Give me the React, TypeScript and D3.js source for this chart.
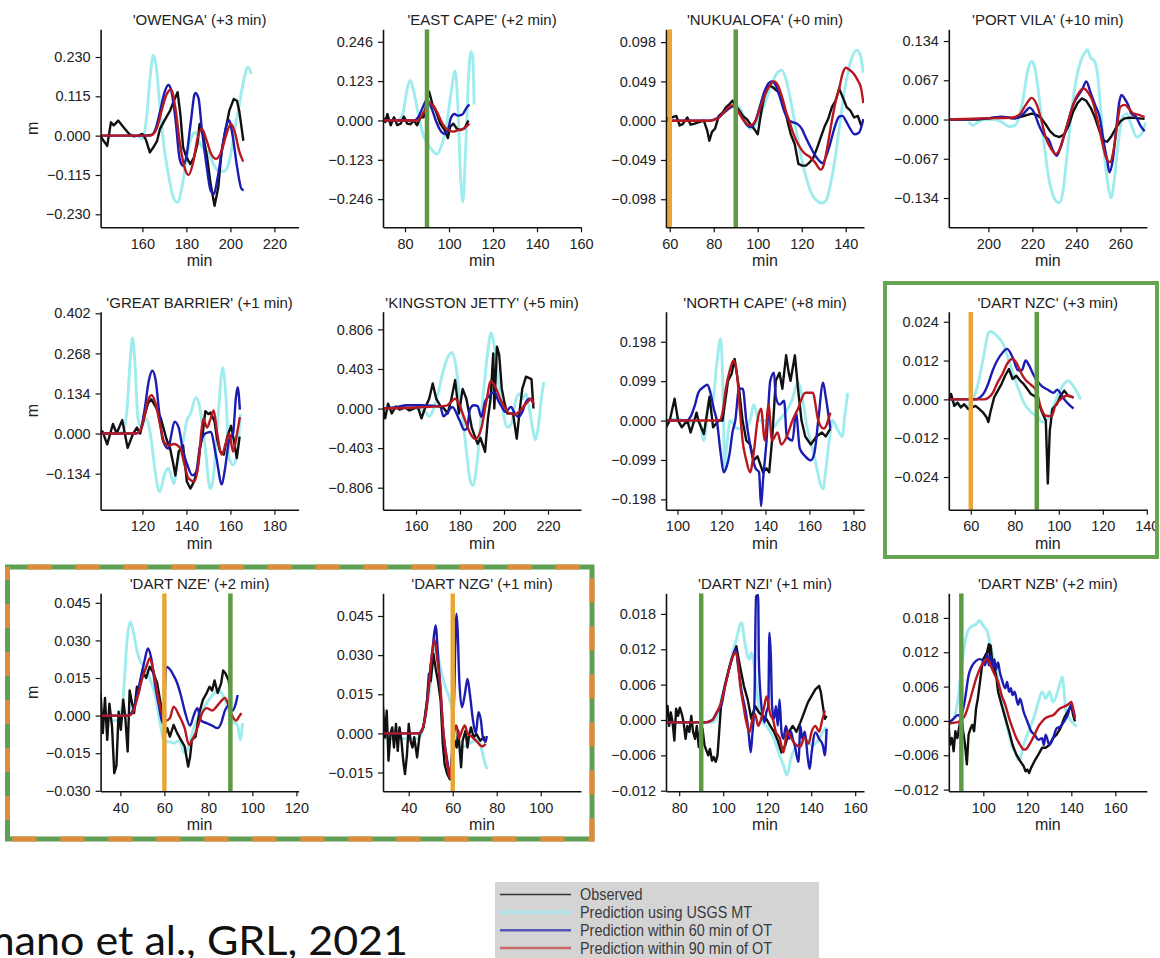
import React, { useRef, useEffect } from 'react';
import * as d3 from 'd3';

type Pt = [number, number];

// ---------- OWENGA (+3 min)
const owengaObs: Pt[] = [[141,0],[142,-0.012],[144,-0.03],[145.7,0.039],[147,0.03],[149,0.044],[151.5,0.024],[154,0.005],[156,-0.002],[158,0],[160,0.005],[161.5,-0.01],[163.4,-0.049],[165,-0.034],[166.7,-0.015],[168,0.02],[170,0.044],[172.6,0.073],[174.3,0.102],[176,0.127],[177.3,0.06],[178.5,-0.034],[180,-0.063],[181.8,-0.083],[183.5,-0.063],[185,-0.024],[186,0.034],[187.5,0.005],[189.4,-0.063],[191,-0.141],[192.8,-0.205],[194.5,-0.151],[196,-0.044],[198,0.024],[199.5,0.073],[201.5,0.107],[203,0.102],[204,0.073],[205.9,-0.015]];
const owengaUsgs: Pt[] = [[158,0],[160,-0.01],[162,0.06],[163.5,0.17],[165,0.235],[166.5,0.19],[168,0.08],[170,-0.04],[172,-0.12],[174,-0.18],[176,-0.195],[178,-0.15],[180,-0.07],[182,-0.01],[184,0.01],[186,-0.02],[188,-0.04],[190,-0.05],[192,-0.08],[194,-0.1],[196,-0.105],[198,-0.1],[200,-0.06],[202,0.02],[204,0.09],[206,0.16],[208,0.2],[209.5,0.18]];
const owenga60: Pt[] = [[141,0],[160,0],[164,0.002],[166,0.02],[168,0.07],[170,0.125],[171.8,0.148],[173,0.135],[175,0.05],[177,-0.07],[178.5,-0.088],[180,-0.06],[182,0.04],[184,0.125],[185.5,0.11],[187,0.02],[189,-0.08],[191,-0.16],[192.5,-0.17],[194,-0.13],[196,-0.05],[198,0.025],[199.5,0.045],[201,0],[203,-0.09],[205,-0.155],[206,-0.16]];
const owenga90: Pt[] = [[141,0],[163,0],[165,0.005],[167,0.03],[169,0.08],[171,0.12],[173,0.135],[175,0.08],[177,-0.02],[179,-0.09],[181,-0.115],[183,-0.08],[185,-0.01],[187,0.02],[189,-0.01],[191,-0.05],[193.5,-0.068],[196,-0.045],[198,0],[200.3,0.034],[202,0.01],[204,-0.045],[205.8,-0.076]];
const owengaTicks = [-0.23, -0.115, 0, 0.115, 0.23];

// ---------- EAST CAPE (+2 min)
const eastCapeObs: Pt[] = [[70,0.01],[71,-0.005],[72,0.02],[73.5,-0.015],[75,0.01],[76.5,-0.015],[78,-0.01],[79.5,0.012],[81,-0.01],[82.5,-0.012],[84,0],[85.5,-0.015],[87,0.01],[88.5,0.01],[90,0.06],[91,0.09],[92.5,0.05],[94,0.03],[96,-0.01],[98,-0.03],[99.5,-0.055],[100.5,-0.02],[102,-0.01],[103.5,-0.025],[105,-0.03],[107,-0.025],[108.8,0]];
const eastCapeUsgs: Pt[] = [[77,0],[79,0.02],[81,0.1],[82.5,0.125],[84,0.09],[86,0.02],[88,-0.04],[90,-0.07],[92,-0.09],[94.5,-0.105],[97,-0.07],[99,-0.01],[101,0.09],[102.8,0.155],[104,0.05],[105.3,-0.18],[106.3,-0.255],[107.5,-0.1],[109,0.15],[110,0.215],[110.8,0.2],[111.4,0.05]];
const eastCape60: Pt[] = [[70,0],[84,0],[86,0.01],[88,0.04],[90,0.065],[92,0.04],[94,0],[96,-0.03],[98,-0.042],[99.5,-0.03],[101,0.01],[102.5,0.02],[104,0.015],[106,0.018],[108,0.04],[109.3,0.05]];
const eastCape90: Pt[] = [[70,0],[86,0],[88,0.02],[90,0.045],[91,0.055],[93,0.045],[95,0.02],[97,-0.01],[99.5,-0.03],[102,-0.035],[104,-0.03],[106,-0.028],[108,-0.018],[109.3,-0.01]];
const eastCapeTicks = [-0.246, -0.123, 0, 0.123, 0.246];

// ---------- NUKUALOFA (+0 min)
const nukuObs: Pt[] = [[58.3,0.003],[60,0.003],[61,0.004],[63,0.006],[64.5,-0.006],[66,-0.004],[68,0.004],[69.5,-0.005],[71,-0.004],[73,-0.002],[75.5,0],[77,-0.012],[78,-0.025],[79.2,-0.014],[80.6,-0.01],[82.3,0.006],[84,0.01],[85.6,0.017],[87.3,0.021],[88.5,0.025],[89.8,0.019],[91.5,0.013],[93.2,0.006],[95,0.002],[96.6,-0.004],[98.3,-0.01],[100,-0.017],[101.7,0.013],[103.3,0.034],[105,0.044],[106.7,0.042],[108.4,0.038],[110,0.034],[111.8,0.021],[113.5,0],[115,-0.017],[116.8,-0.029],[118.5,-0.054],[120.2,-0.056],[121.9,-0.056],[123.6,-0.052],[125.3,-0.046],[127,-0.034],[128.6,-0.021],[130.3,-0.008],[132,0.002],[133.7,0.017],[135.4,0.025],[137,0.04],[138.7,0.029],[140.4,0.017],[142,0.013],[143.8,0.004],[145.5,0.006],[147,-0.006]];
const nukuUsgs: Pt[] = [[89,0.015],[91,0.018],[93,0.01],[95,-0.005],[97,-0.01],[99,-0.005],[101,0.005],[103,0.02],[105,0.035],[107,0.05],[109,0.06],[111,0.063],[113,0.05],[115,0.025],[117,-0.005],[119,-0.035],[121,-0.06],[123,-0.08],[125,-0.094],[127,-0.1],[129,-0.103],[131,-0.1],[133,-0.08],[135,-0.05],[137,-0.01],[139,0.03],[141,0.06],[143,0.08],[145,0.088],[146.5,0.083],[148,0.06]];
const nuku60: Pt[] = [[58.3,0],[78,0],[82,0.004],[86,0.013],[89,0.018],[91,0.012],[93,0.003],[95,-0.005],[96.6,-0.008],[99,0],[101,0.018],[103,0.036],[105,0.047],[106.5,0.049],[108,0.045],[110,0.03],[112,0.012],[114,0.001],[116,-0.002],[118,-0.004],[120,-0.01],[122,-0.022],[124,-0.033],[126,-0.043],[128,-0.05],[129.5,-0.053],[131,-0.045],[133,-0.028],[135,-0.008],[137,0.005],[138.5,0.006],[140,0],[142,-0.01],[144,-0.017],[146,-0.015],[148,0.002]];
const nuku90: Pt[] = [[58.3,0],[78,0],[82,0.003],[85,0.012],[88.5,0.019],[91,0.012],[93,0.003],[95,-0.004],[96.6,-0.006],[99,0],[101,0.015],[103,0.03],[105,0.042],[107.5,0.049],[109,0.045],[111,0.03],[113,0.01],[114.3,0],[116,-0.015],[118.5,-0.03],[121,-0.04],[123.6,-0.045],[126,-0.052],[128.6,-0.061],[130,-0.055],[131.5,-0.035],[133.7,0],[135.5,0.025],[137,0.04],[138.5,0.058],[140,0.066],[141.5,0.064],[143.8,0.058],[145.5,0.05],[147,0.04],[148,0.022]];
const nukuTicks = [-0.098, -0.049, 0, 0.049, 0.098];

// ---------- PORT VILA (+10 min)
const vilaObs: Pt[] = [[182,0],[195,0],[205,0.004],[212,0.002],[216,0.006],[219.7,0.01],[222,0.008],[224,0.002],[226,-0.008],[228,-0.02],[230,-0.027],[232.3,-0.03],[234.5,-0.025],[236.5,-0.01],[238.5,0.013],[240.5,0.028],[242.4,0.036],[244.5,0.032],[246.5,0.02],[248.5,0.003],[250.5,-0.02],[252.5,-0.036],[254,-0.038],[256,-0.028],[258,-0.014],[260,-0.003],[262,0.002],[264,0.003],[266,0.003],[268.5,0.002],[271,0.001]];
const vilaUsgs: Pt[] = [[191,-0.004],[193,-0.01],[195,-0.005],[198,0],[202,0],[206,-0.004],[209.5,-0.012],[212,-0.01],[214,0.005],[216,0.04],[218,0.085],[219.7,0.099],[221,0.09],[223,0.04],[225,-0.03],[227,-0.09],[229,-0.125],[231,-0.14],[232.3,-0.142],[234,-0.12],[236,-0.05],[238,0.02],[240,0.07],[242,0.1],[244,0.115],[245,0.119],[246.5,0.105],[248.2,0.1],[249.5,0.08],[251,0.02],[253,-0.07],[255,-0.125],[255.8,-0.134],[257,-0.11],[259,-0.04],[261,0.005],[263,0.01],[265,-0.01],[267.5,-0.03],[269.5,-0.025],[271.5,-0.005]];
const vila60: Pt[] = [[182,0],[200,0.002],[206,0.005],[212,0.002],[216,0.01],[218.8,0.02],[221,0.01],[223,-0.01],[225.5,-0.028],[227.5,-0.035],[229,-0.05],[231,-0.062],[233,-0.045],[235,-0.02],[236.5,0],[238.5,0.025],[240.7,0.04],[242.5,0.05],[244.5,0.065],[246.5,0.045],[248.5,0.025],[250.5,0.005],[252.5,-0.04],[254,-0.07],[255,-0.09],[256.5,-0.07],[258,-0.02],[259.5,0.03],[260.5,0.042],[262,0.035],[263.5,0.025],[265,0.01],[267,0.005],[269,-0.01],[271,-0.02]];
const vila90: Pt[] = [[182,0],[198,0.002],[210,0.003],[214,0.008],[217,0.025],[219.7,0.037],[222,0.025],[224,0],[226,-0.03],[228.5,-0.05],[230.6,-0.059],[232.5,-0.05],[234.5,-0.025],[236.5,0],[239,0.03],[241,0.045],[243.2,0.053],[245.5,0.045],[247.5,0.03],[249.5,0],[251.5,-0.035],[253.5,-0.065],[255.3,-0.073],[257,-0.05],[258.5,-0.01],[260,0.022],[262,0.025],[264,0.018],[266,0.01],[268.5,0.008],[271,0.004]];
const vilaTicks = [-0.134, -0.067, 0, 0.067, 0.134];

// ---------- GREAT BARRIER (+1 min)
const barrierObs: Pt[] = [[101,0.01],[102,0.005],[104,-0.036],[106.6,0.032],[108.3,0],[110.8,0.045],[113.3,-0.048],[115.8,0],[117.5,0.02],[119,0],[121,0.06],[122.5,0.1],[124,0.115],[126,0.09],[128.4,0.05],[131,-0.02],[132.6,-0.05],[134,-0.1],[135,-0.14],[136.5,-0.06],[138.5,-0.04],[140.2,-0.16],[141.8,-0.184],[143.5,-0.16],[145,-0.12],[146.2,-0.05],[147.4,0],[148.6,0.075],[150,0.065],[151,0.07],[152.8,0.04],[154,-0.02],[155.3,-0.06],[157,-0.07],[158.6,-0.01],[160.3,0.026],[161.5,-0.02],[162.9,-0.082],[164.2,-0.01]];
const barrierUsgs: Pt[] = [[101,0],[108,0],[111,0.005],[113,0.08],[114.5,0.25],[115.5,0.32],[116.5,0.25],[118,0.05],[119.5,0.02],[121.7,0.05],[124,-0.02],[126,-0.138],[127.9,-0.195],[130,-0.138],[131.8,-0.116],[134.3,-0.167],[136,-0.093],[138.5,-0.025],[140.2,0.043],[141.8,0.066],[144.4,0.12],[146,0.09],[147.4,0.02],[148.6,-0.05],[150.8,-0.184],[152,-0.16],[154.5,0.066],[156.5,0.22],[158,0.12],[159.5,-0.082],[161.2,-0.105],[163,-0.07],[164.5,0.066]];
const barrier60: Pt[] = [[101,0],[117,0],[119,0.01],[121,0.08],[123,0.18],[124.5,0.21],[126,0.18],[127.5,0.08],[129.2,-0.02],[131.8,-0.05],[133,-0.01],[134.6,0.04],[136.5,0.02],[138.5,-0.06],[140.2,-0.1],[142.7,-0.14],[144.4,-0.13],[146,-0.05],[148.6,0],[151,0.005],[153.6,-0.08],[156.1,-0.17],[157.5,-0.12],[159.5,-0.02],[161.2,0],[162.5,0.12],[163.3,0.155],[164.3,0.08]];
const barrier90: Pt[] = [[101,0],[117,0],[119,0.01],[121,0.06],[122.5,0.11],[124.2,0.128],[126,0.1],[128,0.03],[130,-0.03],[131.8,-0.04],[134.3,-0.035],[137.3,-0.05],[139,-0.1],[141,-0.15],[143.5,-0.16],[145.5,-0.1],[146.7,0],[147.7,0.05],[149.4,0.02],[151,0.05],[152.4,0.077],[154,0],[156.1,-0.07],[158,-0.03],[159.5,0],[161.2,-0.06],[163,0],[164.3,0.055]];
const barrierTicks = [-0.134, 0, 0.134, 0.268, 0.402];

// ---------- KINGSTON JETTY (+5 min)
const kingstonObs: Pt[] = [[145,0],[146,-0.1],[147.3,0.05],[149,-0.05],[150.8,0.02],[152.5,-0.01],[155,0.01],[157,-0.02],[159,0],[160.8,0.02],[162.5,-0.1],[164,0],[166,0.1],[167.6,0.256],[169.2,0.1],[171,0.03],[172.7,0],[174.4,-0.05],[176.1,0.1],[177.8,0.29],[179.5,-0.05],[181.2,0.2],[182.9,0.1],[185.4,-0.2],[188,-0.36],[189.3,-0.3],[191.4,-0.44],[192.7,-0.1],[193.9,0.1],[195.1,0.56],[195.6,0],[196.8,0.63],[197.8,0.55],[199,0.2],[200.3,0.05],[201.5,-0.05],[203.2,-0.05],[204.1,-0.05],[205.8,-0.307],[207,-0.05],[208.3,0.2],[210,0.324],[212.5,0.3],[213.4,0]];
const kingstonUsgs: Pt[] = [[145,0],[150,0],[156,0.02],[160,0],[164,-0.03],[166,-0.08],[168,0],[170,0.15],[172,0.35],[174,0.5],[176.4,0.57],[178,0.45],[180,0.1],[181.5,-0.15],[183,-0.45],[184.5,-0.72],[185.8,-0.785],[187.5,-0.6],[189.7,-0.05],[191.5,0.35],[193,0.65],[194.2,0.77],[195.5,0.65],[197,0.35],[199,0.05],[201.5,-0.19],[203.5,-0.15],[205,0.05],[206.8,0.15],[208.5,0.1],[210,0.15],[211.5,0],[213,-0.2],[214.2,-0.32],[215.5,-0.2],[217,0.1],[218.1,0.27]];
const kingston60: Pt[] = [[145,0],[150,0.01],[156,0.034],[162,0.034],[167,0.03],[171,0.02],[172.5,-0.08],[174,-0.05],[176.5,0.015],[179.8,-0.12],[182,-0.22],[183.2,-0.2],[184.6,0],[186.3,0.034],[188,0.024],[189.7,-0.085],[191.4,0.07],[193,0.12],[195.6,0.17],[197.3,0.085],[199,0.017],[200.7,-0.034],[203.2,0.017],[204.9,-0.05],[206.6,-0.085],[208.3,-0.034],[210,0.068],[211.7,0.1],[213.4,0.05]];
const kingston90: Pt[] = [[145,0],[160,0.01],[168,0.02],[174,0.03],[176,0.07],[177.8,0.1],[179.5,0.05],[182,-0.1],[184.6,-0.25],[187.1,-0.31],[189.7,-0.2],[192.2,0.1],[193.9,0.28],[196.5,0.2],[198.2,0.1],[200.7,0],[202.4,-0.05],[204.9,-0.06],[207.4,-0.02],[210,0.05],[212.5,0.1],[213.4,0.05]];
const kingstonTicks = [-0.806, -0.403, 0, 0.403, 0.806];

// ---------- NORTH CAPE (+8 min)
const northCapeObs: Pt[] = [[94.8,-0.017],[96.5,0],[98.7,0.055],[100.3,0],[102,-0.017],[104.5,0],[106,-0.03],[108.7,0.02],[109.5,0],[112,-0.034],[114.6,0.06],[116.2,-0.017],[118.8,0],[120.5,0],[123,0.1],[124.6,0.117],[126,0.155],[128,0.08],[129.6,0],[131.3,-0.05],[133,-0.06],[134.7,-0.1],[136.4,-0.09],[138.9,-0.13],[140.5,-0.12],[141.7,-0.13],[143,-0.05],[144.7,0.1],[146.4,0.12],[147.7,0.08],[149.4,0.164],[150.6,0.12],[151.4,0.1],[153.4,0.164],[154.8,0.08],[156.4,0],[158.1,-0.04],[160.6,-0.06],[163.2,-0.04],[165.7,-0.03],[167.4,-0.04],[169.5,-0.02]];
const northCapeUsgs: Pt[] = [[95,0],[100,0.005],[105,-0.005],[110,0],[112,-0.05],[114.6,0.055],[116,0.05],[118,0.15],[119.6,0.205],[120.6,0.1],[121.5,-0.12],[122.5,-0.06],[124,0],[127,-0.02],[130,-0.02],[133,0],[134.7,0.04],[137,0],[140,0],[143,-0.02],[146,0],[149,0.02],[152,0.05],[154.8,0.096],[157,0.05],[159,-0.02],[161,-0.06],[163,-0.11],[165,-0.16],[166.2,-0.172],[167.5,-0.12],[169,-0.05],[170.5,0],[172.5,-0.02],[174.9,-0.04],[176,0.01],[177.4,0.07]];
const northCape60: Pt[] = [[94.8,0],[104,0],[106,0.01],[108,0.04],[109.5,0.07],[112,0.085],[113.6,0.09],[115,0.07],[116.5,0.03],[117.9,0],[119.6,-0.08],[121,-0.13],[122.1,-0.12],[123.8,-0.08],[125,-0.03],[126.3,0],[128,0.08],[129.7,0.08],[131.3,0],[133,-0.06],[135.5,-0.12],[137.1,-0.13],[138,-0.215],[138.9,-0.15],[140.5,-0.05],[142.2,0.1],[143.9,0.12],[144.7,0.06],[146.4,0.04],[148.5,0.05],[149.7,-0.04],[152.3,-0.05],[153.9,0.02],[155.6,-0.07],[158.1,-0.09],[160.6,-0.1],[162.3,-0.08],[164,0],[166.2,0.095],[167.4,0.06],[169.5,-0.02]];
const northCape90: Pt[] = [[94.8,0],[119,0],[120.5,0.02],[122,0.08],[124,0.13],[125.5,0.151],[127,0.12],[128.5,0.02],[129.6,-0.05],[131.3,-0.1],[133,-0.13],[134.7,-0.08],[136.4,0],[138,0.03],[139.7,-0.05],[141.4,0.04],[143,-0.05],[145.5,-0.03],[147.2,-0.06],[149.7,-0.04],[152.3,0],[154.8,0.03],[158.1,0.07],[161.5,0.07],[164,0],[166.5,-0.02],[169.5,0.02]];
const northCapeTicks = [-0.198, -0.099, 0, 0.099, 0.198];

// ---------- DART NZC (+3 min)
const nzcObs: Pt[] = [[50,0],[51,0.0017],[52.5,-0.002],[54,-0.001],[55.5,-0.0025],[57,-0.0015],[58.8,-0.003],[60.5,-0.0025],[62.2,-0.002],[63.9,-0.003],[65.5,-0.004],[67.2,-0.0056],[68,-0.007],[68.9,-0.004],[70.6,0.0006],[72.3,0.0027],[74,0.0048],[75.6,0.0073],[77.3,0.0094],[79,0.0063],[80.7,0.0073],[82.4,0.0058],[84.1,0.0047],[85.7,0.0032],[87.4,0.0016],[89.1,0.001],[90.8,-0.001],[92.4,-0.004],[94.1,-0.0066],[95,-0.026],[95.9,-0.0097],[97.1,-0.003],[99.1,-0.0015],[100.8,0.0011],[102.5,0.0027],[104.2,0.0011],[106.7,0.0006]];
const nzcUsgs: Pt[] = [[51,0],[55,-0.002],[58,-0.002],[61,0],[63,0.004],[65.5,0.012],[68,0.0205],[69,0.021],[72,0.0195],[74.8,0.017],[77.3,0.012],[80.7,0.005],[84.1,-0.001],[87.4,-0.004],[90.8,-0.0056],[92.4,-0.007],[95,-0.006],[97.6,-0.002],[100,0.002],[104.2,0.0058],[106.7,0.004],[110,0]];
const nzc60: Pt[] = [[50,0],[62,0],[64,0.0005],[66,0.002],[68,0.005],[70,0.009],[72,0.012],[74.5,0.0145],[76.5,0.0156],[79,0.013],[81.5,0.009],[83.2,0.009],[84.9,0.012],[86.5,0.0105],[88.2,0.008],[89.9,0.006],[92.4,0.004],[95,0.003],[97.6,0.002],[99.3,0.003],[100.8,0.0018],[102.5,0],[104.9,-0.0018],[106.7,-0.0028]];
const nzc90: Pt[] = [[50,0],[66,0],[68,0.0005],[70,0.002],[72,0.005],[74.5,0.008],[76.5,0.011],[79,0.0125],[81,0.011],[83,0.008],[84.9,0.006],[87.4,0.0045],[89.9,0.0025],[91.6,-0.002],[94.1,-0.005],[96.7,-0.0052],[98.4,-0.002],[100.8,0],[104.2,0.0012],[106.7,0.0005]];
const nzcTicks = [-0.024, -0.012, 0, 0.012, 0.024];

// ---------- DART NZE (+2 min)
const nzeObs: Pt[] = [[31,0.009],[32,-0.007],[33,0.007],[34,-0.0097],[35,0.0048],[36.2,-0.0045],[37.2,-0.023],[38.2,-0.02],[39.2,0.0016],[40.2,-0.0057],[41.3,0.0063],[42.2,-0.0004],[43.3,-0.0143],[44.2,0.01],[45,0.0063],[46.2,0.001],[47.5,0.0115],[48.3,0.009],[50,0.018],[51.7,0.015],[53.3,0.0195],[55,0.017],[56.7,0.013],[58.3,0.0048],[59.5,-0.0017],[60.5,-0.007],[61.3,-0.005],[62.5,-0.0084],[64.2,-0.0037],[65.8,-0.007],[67.5,-0.0097],[69.2,-0.0123],[70.8,-0.0203],[71.7,-0.0163],[72.5,-0.0097],[74.2,-0.0084],[75.8,0.001],[77.5,0.0063],[79.2,0.009],[80.5,0.0115],[81.7,0.01],[82.8,0.014],[84.2,0.009],[85.8,0.013],[86.7,0.018],[87.8,0.0168],[89.2,0.014],[90,0.009]];
const nzeUsgs: Pt[] = [[31,-0.002],[38,-0.002],[40,0],[41.5,0.01],[43,0.03],[44.5,0.0374],[46,0.033],[47.5,0.026],[49.5,0.021],[50.8,0.02],[53.3,0.015],[55.8,0.008],[57.5,0],[60,-0.0104],[62.5,-0.0105],[64.2,-0.011],[66.7,-0.01],[69.2,-0.015],[70.8,-0.013],[73.3,-0.005],[75.8,0],[79.2,0.005],[81.7,0.008],[84.2,0.01],[86.7,0.008],[89.2,0.002],[90.8,-0.002],[93.3,-0.004],[94.5,-0.0097],[95.5,-0.003]];
const nze60: Pt[] = [[31,0],[43,0],[45,0.001],[47,0.006],[49,0.014],[51,0.022],[52.5,0.0268],[54,0.023],[55.8,0.012],[57.5,0.004],[59.2,-0.003],[60.2,0.01],[60.8,0.0195],[62.5,0.0185],[64.2,0.016],[65.8,0.013],[67.5,0.008],[69.2,0.002],[71.7,-0.004],[73.3,0],[75,0.003],[76.7,-0.002],[79.2,-0.003],[81.7,-0.004],[84.2,-0.005],[85.8,-0.003],[87.5,0.002],[89.2,0.004],[90.8,0.002],[92.5,0.005],[93.3,0.0082]];
const nze90: Pt[] = [[31,0],[44,0],[46,0.002],[48,0.008],[50,0.015],[52,0.02],[53.3,0.0228],[55,0.018],[57,0.008],[59.2,0],[60.8,-0.002],[62.5,-0.001],[64.2,0.0036],[66.7,0],[69.2,-0.005],[71.2,-0.0117],[72.5,-0.01],[75,-0.005],[76.7,0],[79.2,0.003],[81.7,0.002],[85,0.005],[87.5,0.007],[89.2,0.004],[90.8,0],[92.5,-0.002],[94.2,0],[95,0.001]];
const nzeTicks = [-0.03, -0.015, 0, 0.015, 0.03, 0.045];

// ---------- DART NZG (+1 min)
const nzgObs: Pt[] = [[28.3,0.01],[29.2,-0.0015],[30,0.0087],[30.8,-0.0105],[31.7,-0.0003],[32.5,0.0023],[33.3,-0.0054],[34.2,0.0036],[35,-0.0067],[35.8,0.0023],[36.7,-0.0028],[37.5,-0.0105],[38.3,-0.0156],[39.2,-0.008],[40,0.0036],[40.8,-0.0028],[41.7,-0.0054],[42.5,-0.0015],[43.8,-0.0092],[45,0],[46.7,0.0023],[48.3,0.0126],[49.2,0.0228],[50,0.02],[51.2,0.0305],[52.2,0.025],[53.3,0.02],[54.5,0.0126],[55.5,-0.0041],[56.3,-0.0118],[57.5,-0.0156],[58.7,-0.0176],[59.5,-0.0105],[60.8,-0.0028],[61.8,-0.0054],[62.5,0.001],[63.8,-0.013],[64.5,-0.0028],[65.8,0.001],[66.7,-0.0054],[67.5,-0.0003],[68.3,0.0023],[69.5,-0.0015],[70.8,-0.0003],[72.5,-0.0028],[74.2,-0.0015],[75,-0.0035]];
const nzgUsgs: Pt[] = [[28.3,-0.002],[44,-0.002],[45.8,0],[48.3,0.01],[50,0.02],[51.2,0.03],[52.2,0.034],[54.2,0.026],[56.7,0.0177],[58.3,0.014],[59.5,0.01],[61.2,0],[62.5,-0.005],[65,-0.005],[67.5,-0.004],[69.2,-0.003],[70.8,-0.002],[72.5,-0.004],[74.2,-0.01],[75.5,-0.0137]];
const nzg60: Pt[] = [[28.3,0],[45,0],[46.7,0.003],[48.3,0.012],[49.2,0.02],[50.8,0.032],[52.2,0.0414],[53.3,0.03],[55.8,0],[57.8,-0.012],[58.8,-0.017],[59.5,-0.01],[60.5,0.01],[61.7,0.0459],[62.2,0.04],[63,0.02],[64.2,0.01],[65.5,0.015],[66.7,0.0209],[67.8,0.015],[69.2,0.005],[70.5,0],[71.7,0.0081],[72.8,0.005],[73.8,-0.002],[75,-0.003],[75.5,-0.001]];
const nzg90: Pt[] = [[28.3,0],[45,0],[47,0.004],[49,0.016],[50.5,0.03],[51.7,0.0359],[53,0.028],[54.2,0.02],[55.8,0],[57.2,-0.01],[58.8,-0.017],[59.5,-0.012],[60.5,0],[61.7,0.003],[62.8,-0.002],[64.2,0.001],[65.5,0.003],[66.7,0],[68.3,-0.001],[70.8,-0.003],[73.3,-0.005],[75,-0.004]];
const nzgTicks = [-0.015, 0, 0.015, 0.03, 0.045];

// ---------- DART NZI (+1 min)
const nziObs: Pt[] = [[74,0.0007],[74.7,0.0024],[75.4,-0.001],[76.2,0.0013],[77,-0.0004],[77.8,-0.0035],[78.6,0.0019],[79.5,0.0007],[80.3,0.0021],[81.2,0.001],[82,-0.0004],[82.9,-0.0032],[83.7,-0.001],[84.6,-0.002],[85.5,0.0007],[86.3,-0.002],[87.2,-0.0032],[88,-0.001],[88.9,-0.0046],[89.7,-0.001],[90.6,-0.0015],[91.5,-0.0043],[92.3,-0.0051],[93.2,-0.006],[94,-0.0049],[94.9,-0.0069],[95.7,-0.0063],[96.6,-0.0071],[97.4,-0.006],[97.8,-0.004],[99.1,0.003],[100.9,0.0061],[102.6,0.0086],[104.3,0.0108],[106,0.0125],[106.8,0.0108],[107.7,0.009],[109.4,0.0058],[111.1,0.0035],[112.8,0.0002],[114.5,0.0024],[116.2,0.0013],[118,0.0007],[119.6,0.0002],[121.4,-0.001],[123.1,-0.002],[124.8,-0.0035],[126.5,-0.0055],[128.2,-0.0043],[129.9,-0.002],[131.6,-0.001],[133.3,-0.002],[135.1,-0.0004],[136.8,0.0013],[138.5,0.003],[140.2,0.0041],[141.9,0.0052],[143.6,0.0058],[144.4,0.0047],[145.3,0.0024],[146.2,0.0002],[147,0.0007]];
const nziUsgs: Pt[] = [[74,-0.0004],[95,-0.0004],[97.4,0.0007],[99.1,0.0035],[100.9,0.006],[102.6,0.0086],[104.3,0.0114],[106,0.0137],[107.7,0.0162],[108.5,0.0165],[109.4,0.0142],[111.1,0.0108],[112,0.0103],[112.8,0.0114],[113.7,0.0103],[115.4,0.0047],[116.2,0.0024],[118,-0.0004],[119.6,-0.001],[121.4,-0.002],[123.1,-0.0032],[125.6,-0.006],[127.4,-0.0077],[129,-0.0094],[130.8,-0.0065],[132.5,-0.0049],[135.1,-0.0043],[137.6,-0.0032],[140.2,-0.0043],[143.6,-0.0032],[145.3,-0.002],[147,-0.0012]];
const nzi60: Pt[] = [[74,-0.0004],[92,-0.0004],[95,0],[97.4,0.0015],[99.1,0.0024],[100.9,0.0058],[102.6,0.0086],[104.3,0.0108],[105.7,0.012],[106.8,0.009],[108.5,0.0046],[110.3,0.0013],[111.5,-0.002],[112.5,-0.0055],[113.2,-0.0026],[114.2,0.003],[114.9,0.021],[115.9,0.0212],[116.2,0.0103],[117.1,0.0035],[118,0.0007],[118.8,-0.0004],[119.6,0.0013],[120.5,0.0024],[121,0.0148],[121.7,0.0103],[122.2,0.0024],[123.1,0.0002],[124,0.0024],[124.8,-0.001],[125.6,0.0035],[126.5,-0.002],[127.4,-0.0032],[128.5,-0.001],[129.9,-0.0032],[130.8,-0.002],[131.6,-0.0032],[132.5,-0.0043],[134.2,-0.0071],[135.1,-0.001],[135.9,-0.0032],[137.1,-0.002],[138.5,-0.0066],[139.3,-0.0083],[140.2,-0.0055],[141.9,-0.0021],[143.6,-0.0032],[145.3,-0.0043],[146.2,-0.006],[147,-0.0015]];
const nzi90: Pt[] = [[74,-0.0004],[92,-0.0004],[95,0],[97.4,0.0015],[99.1,0.003],[100.9,0.0058],[102.6,0.0085],[104.3,0.0108],[105.6,0.0114],[106.8,0.0095],[107.7,0.006],[109.4,0.002],[110.3,0],[112,-0.002],[113.2,0],[114.5,0.001],[115.9,-0.001],[117.1,0],[118.5,0.002],[119.7,0.004],[121.4,0.001],[122.7,0],[123.9,-0.002],[125.6,-0.003],[127.4,-0.0055],[129,-0.002],[130.8,-0.003],[132.5,-0.004],[135.1,-0.0045],[136.8,-0.003],[138.8,-0.004],[140.2,-0.002],[141.9,-0.001],[143.6,-0.002],[145,0],[146.2,0.0016]];
const nziTicks = [-0.012, -0.006, 0, 0.006, 0.012, 0.018];

// ---------- DART NZB (+2 min)
const nzbObs: Pt[] = [[84.3,-0.0013],[84.8,-0.0042],[85.7,-0.003],[86.5,-0.0053],[87.3,-0.0018],[88.2,-0.003],[89.2,-0.0007],[90,0.001],[90.8,-0.0018],[91.7,-0.0042],[92.5,-0.0076],[93.3,-0.0024],[94.2,-0.0013],[95,-0.0007],[95.8,-0.0018],[96.7,0.0022],[97.5,0.0039],[98.3,0.0063],[99.2,0.009],[100,0.0108],[100.8,0.0114],[101.7,0.012],[102.5,0.0134],[103,0.011],[103.3,0.0132],[104.2,0.0097],[105,0.0092],[105.8,0.008],[106.7,0.0051],[108.3,0.0028],[110,0.0005],[111.7,-0.0018],[113.3,-0.0042],[115,-0.0059],[116.7,-0.007],[118.3,-0.0079],[119.2,-0.0088],[120,-0.0085],[120.8,-0.0091],[121.7,-0.0082],[123.3,-0.007],[125,-0.0059],[126.7,-0.0047],[128.3,-0.0047],[130,-0.0042],[131.7,-0.003],[133.3,-0.0024],[135,-0.0013],[136.7,0.0005],[138.3,0.0016],[140,0.0028],[140.8,0.001],[141.7,-0.0001]];
const nzbUsgs: Pt[] = [[84.3,-0.0007],[86.7,0.0005],[88.3,0.0033],[90,0.009],[91.7,0.0138],[93.3,0.016],[95,0.0166],[96.7,0.0169],[98.3,0.0175],[100,0.0166],[101.7,0.0157],[103.3,0.0132],[105,0.0102],[106.7,0.0074],[108.3,0.0039],[110,0.0005],[111.7,-0.0024],[113.3,-0.0047],[115,-0.0059],[115.8,-0.0068],[116.7,-0.0065],[118.3,-0.0042],[120,-0.0024],[121.7,-0.0007],[123.3,0.001],[125,0.0033],[126.7,0.0051],[127.5,0.0045],[128.3,0.0039],[130,0.0051],[131.7,0.0033],[133.3,0.0045],[135,0.0068],[135.8,0.0077],[136.7,0.0051],[137.5,0.0016],[138.3,0.001],[140,-0.0001],[141.7,-0.0007],[142.5,-0.001]];
const nzb60: Pt[] = [[84.3,-0.0004],[86.7,0.0005],[88.3,0.001],[90,0.001],[91.7,0.0039],[93.3,0.008],[95,0.0097],[96.7,0.0105],[98.3,0.0108],[100,0.0105],[100.8,0.0097],[101.7,0.0117],[102.5,0.0097],[103.3,0.0114],[104.2,0.009],[105,0.0108],[105.8,0.009],[106.7,0.0102],[107.5,0.0085],[108.3,0.0074],[110,0.0057],[110.8,0.0068],[111.7,0.0051],[112.5,0.0057],[113.3,0.0045],[114.2,0.0051],[115.8,0.0028],[116.7,0.0039],[118.3,0.0016],[120,-0.0001],[121.7,-0.0018],[123.3,-0.0024],[125,-0.0033],[126.7,-0.003],[127.5,-0.0042],[128.3,-0.0024],[130,-0.0042],[131.7,-0.003],[133.3,-0.0013],[135,-0.001],[136.7,-0.0001],[138.3,0.001],[140,0.0028],[140.8,0.0016],[141.7,0.0007]];
const nzb90: Pt[] = [[84.3,-0.0004],[88.3,-0.0002],[90,0.0002],[91.7,0.001],[93.3,0.0028],[95,0.0051],[96.7,0.0074],[98.3,0.009],[100,0.0102],[101.7,0.0108],[102.5,0.0105],[103.3,0.0097],[105,0.0082],[106.7,0.0068],[108.3,0.0045],[110,0.0028],[111.7,0.0005],[113.3,-0.0013],[115,-0.003],[116.7,-0.0042],[118.3,-0.005],[119.2,-0.005],[120,-0.0047],[121.7,-0.0036],[123.3,-0.0024],[125,-0.001],[126.7,-0.0001],[128.3,0.0005],[130,0.0008],[131.7,0.001],[133.3,0.0016],[135,0.0022],[136.7,0.0025],[138.3,0.0028],[140,0.0033],[140.8,0.0022],[141.7,0.0005]];
const nzbTicks = [-0.012, -0.006, 0, 0.006, 0.012, 0.018];

const legendLabels = ['Observed', 'Prediction using USGS MT', 'Prediction within 60 min of OT', 'Prediction within 90 min of OT'];
const citation = 'Romano et al., GRL, 2021';

// panel table: title, x/y domain, y ticks, marker lines (60 = orange, 90 = green)
const panels = [
  { title: "'OWENGA' (+3 min)", xDom: [141, 231], yDom: [-0.268, 0.311], yTicks: owengaTicks, marks: [], data: [owengaUsgs, owengaObs, owenga60, owenga90] },
  { title: "'EAST CAPE' (+2 min)", xDom: [70, 160], yDom: [-0.334, 0.285], yTicks: eastCapeTicks, marks: [90], data: [eastCapeUsgs, eastCapeObs, eastCape60, eastCape90] },
  { title: "'NUKUALOFA' (+0 min)", xDom: [58.3, 148.3], yDom: [-0.133, 0.114], yTicks: nukuTicks, marks: [60, 90], data: [nukuUsgs, nukuObs, nuku60, nuku90] },
  { title: "'PORT VILA' (+10 min)", xDom: [182, 272], yDom: [-0.184, 0.154], yTicks: vilaTicks, marks: [], data: [vilaUsgs, vilaObs, vila60, vila90] },
  { title: "'GREAT BARRIER' (+1 min)", xDom: [101, 191], yDom: [-0.2546, 0.4074], yTicks: barrierTicks, marks: [], data: [barrierUsgs, barrierObs, barrier60, barrier90] },
  { title: "'KINGSTON JETTY' (+5 min)", xDom: [145, 235], yDom: [-1.03, 0.986], yTicks: kingstonTicks, marks: [], data: [kingstonUsgs, kingstonObs, kingston60, kingston90] },
  { title: "'NORTH CAPE' (+8 min)", xDom: [94.8, 184.8], yDom: [-0.224, 0.2736], yTicks: northCapeTicks, marks: [], data: [northCapeUsgs, northCapeObs, northCape60, northCape90] },
  { title: "'DART NZC' (+3 min)", xDom: [50, 140], yDom: [-0.0341, 0.0271], yTicks: nzcTicks, marks: [60, 90], data: [nzcUsgs, nzcObs, nzc60, nzc90] },
  { title: "'DART NZE' (+2 min)", xDom: [31, 121], yDom: [-0.0302, 0.0488], yTicks: nzeTicks, marks: [60, 90], data: [nzeUsgs, nzeObs, nze60, nze90] },
  { title: "'DART NZG' (+1 min)", xDom: [28.3, 118.3], yDom: [-0.0222, 0.0537], yTicks: nzgTicks, marks: [60], data: [nzgUsgs, nzgObs, nzg60, nzg90] },
  { title: "'DART NZI' (+1 min)", xDom: [74, 164], yDom: [-0.0121, 0.0215], yTicks: nziTicks, marks: [90], data: [nziUsgs, nziObs, nzi60, nzi90] },
  { title: "'DART NZB' (+2 min)", xDom: [84.3, 174.3], yDom: [-0.0123, 0.0223], yTicks: nzbTicks, marks: [90], data: [nzbUsgs, nzbObs, nzb60, nzb90] },
];

const colX = [100.6, 383, 666, 948.8];
const rowY = [29.3, 311.7, 593.3];
const W = 198, H = 198;
const lineColors = ['#9eecee', '#111111', '#1c1cb2', '#b8181f'];
const lineWidths = [2.9, 2.4, 2.4, 2.4];
const legendColors = ['#333333', '#b3e2e8', '#5656b6', '#c46868'];
const legendWidths = [1.5, 4, 2.5, 2.5];
const FONT = "'Liberation Sans', Arial, Helvetica, sans-serif";

export default function App() {
  const ref = useRef<SVGSVGElement>(null);

  useEffect(() => {
    document.body.style.margin = '0';
    const svg = d3.select(ref.current);
    svg.selectAll('*').remove();
    svg.append('rect').attr('width', 1160).attr('height', 958).attr('fill', '#fff');

    const fmt = d3.format('.3f');

    panels.forEach((p, i) => {
      const col = i % 4, row = Math.floor(i / 4);
      const g = svg.append('g').attr('transform', `translate(${colX[col]},${rowY[row]})`);
      const x = d3.scaleLinear().domain(p.xDom).range([0, W]);
      const y = d3.scaleLinear().domain(p.yDom).range([H, 0]);

      g.append('clipPath').attr('id', 'clip' + i)
        .append('rect').attr('x', 0).attr('y', 0).attr('width', W).attr('height', H);
      const plot = g.append('g').attr('clip-path', `url(#clip${i})`);

      p.data.forEach((d, k) => {
        const line = d3.line<Pt>().x(v => x(v[0])).y(v => y(v[1]))
          .curve(k === 1 ? d3.curveLinear : d3.curveMonotoneX);
        plot.append('path').datum(d).attr('d', line)
          .attr('fill', 'none').attr('stroke', lineColors[k])
          .attr('stroke-width', lineWidths[k]).attr('stroke-linejoin', 'round');
      });

      // vertical markers
      p.marks.forEach(m => {
        plot.append('line')
          .attr('x1', x(m)).attr('x2', x(m)).attr('y1', 0).attr('y2', H)
          .attr('stroke', m === 60 ? '#e7a738' : '#5e9a44').attr('stroke-width', 4.5);
      });

      const xTicks = d3.range(Math.ceil(p.xDom[0] / 20) * 20, p.xDom[1] + 0.01, 20);
      const xa = g.append('g').attr('transform', `translate(0,${H})`)
        .call(d3.axisBottom(x).tickValues(xTicks).tickFormat(d3.format('d')).tickSize(5).tickSizeOuter(0).tickPadding(6));
      const ya = g.append('g')
        .call(d3.axisLeft(y).tickValues(p.yTicks).tickFormat(v => fmt(v as number)).tickSize(5).tickSizeOuter(0).tickPadding(5));
      [xa, ya].forEach(a => {
        a.attr('font-family', FONT).attr('font-size', 14.5);
        a.select('.domain').attr('stroke', '#111').attr('stroke-width', 1.6);
        a.selectAll('.tick line').attr('stroke', '#111').attr('stroke-width', 1.2);
        a.selectAll('.tick text').attr('fill', '#222');
      });

      g.append('text').attr('x', W / 2).attr('y', -4).attr('text-anchor', 'middle')
        .attr('font-family', FONT).attr('font-size', 15).attr('fill', '#222').text(p.title);
      g.append('text').attr('x', W / 2).attr('y', H + 39).attr('text-anchor', 'middle')
        .attr('font-family', FONT).attr('font-size', 16).attr('fill', '#222').text('min');
      if (col === 0) {
        g.append('text').attr('transform', `translate(${38 - colX[0]},${H / 2}) rotate(-90)`)
          .attr('text-anchor', 'middle').attr('font-family', FONT).attr('font-size', 16)
          .attr('fill', '#222').text('m');
      }
    });

    // highlight boxes
    svg.append('rect').attr('x', 885).attr('y', 283).attr('width', 272).attr('height', 274)
      .attr('fill', 'none').attr('stroke', '#67a552').attr('stroke-width', 4);
    svg.append('rect').attr('x', 7.5).attr('y', 567).attr('width', 584.5).attr('height', 272)
      .attr('fill', 'none').attr('stroke', '#5f9e55').attr('stroke-width', 5);
    svg.append('rect').attr('x', 7.5).attr('y', 567).attr('width', 584.5).attr('height', 272)
      .attr('fill', 'none').attr('stroke', '#e08b3c').attr('stroke-width', 5)
      .attr('stroke-dasharray', '24 24').attr('stroke-dashoffset', -20);

    // legend
    const lg = svg.append('g');
    lg.append('rect').attr('x', 495).attr('y', 882).attr('width', 324).attr('height', 80).attr('fill', '#d4d4d4');
    const ly = d3.scaleBand<number>().domain(d3.range(4)).range([885.5, 957]);
    legendLabels.forEach((t, k) => {
      const yy = (ly(k) as number) + ly.bandwidth() / 2;
      lg.append('line').attr('x1', 500).attr('x2', 571).attr('y1', yy).attr('y2', yy)
        .attr('stroke', legendColors[k]).attr('stroke-width', legendWidths[k]);
      lg.append('text').attr('transform', `translate(580,${yy + 5.6}) scale(0.9,1)`)
        .attr('font-family', FONT).attr('font-size', 16).attr('fill', '#3a3a3a').text(t);
    });

    svg.append('text').attr('transform', 'translate(408,955) scale(1.05,1)').attr('text-anchor', 'end')
      .attr('font-family', "Lato, 'Open Sans', sans-serif").attr('font-size', 41)
      .attr('fill', '#111').text(citation);
  }, []);

  return (
    <div>
      <svg ref={ref} width={1160} height={958} style={{ position: 'absolute', left: 0, top: 0, display: 'block' }} />
    </div>
  );
}
